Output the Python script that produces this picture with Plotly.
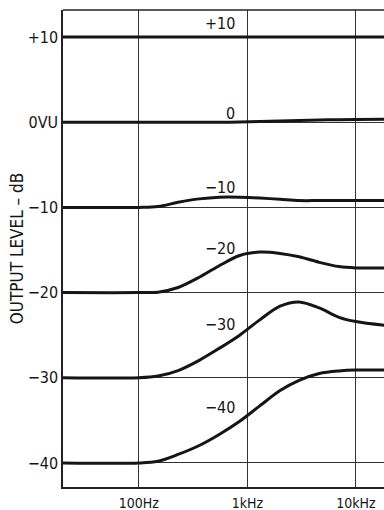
import numpy as np
import plotly.graph_objects as go

freq = [20, 100, 150, 230, 360, 550, 850, 1300, 2000, 3000, 4600, 7000, 10000, 20000]

# output level (dB) of each curve, one per input level
lvl_p10 = [10, 10, 10, 10, 10, 10, 10, 10, 10, 10, 10, 10, 10, 10]
lvl_0 = [0, 0, 0, 0, 0, 0, 0.02, 0.08, 0.15, 0.2, 0.25, 0.3, 0.33, 0.35]
lvl_m10 = [-10, -10, -9.9, -9.4, -9.0, -8.8, -8.8, -8.9, -9.05, -9.2, -9.2, -9.2, -9.2, -9.2]
lvl_m20 = [-20, -20, -19.95, -19.4, -18.2, -16.85, -15.65, -15.25, -15.4, -15.8, -16.45, -16.95, -17.1, -17.1]
lvl_m30 = [-30, -30, -29.8, -29.15, -27.95, -26.55, -25.0, -23.2, -21.6, -21.1, -21.8, -22.9, -23.4, -23.9]
lvl_m40 = [-40, -40, -39.8, -39.0, -37.95, -36.65, -35.1, -33.3, -31.5, -30.3, -29.5, -29.2, -29.1, -29.1]
curves = [lvl_p10, lvl_0, lvl_m10, lvl_m20, lvl_m30, lvl_m40]

curve_labels = ["+10", "0", "\u221210", "\u221220", "\u221230", "\u221240"]

y_ticks = [10, 0, -10, -20, -30, -40]
y_ticktext = ["+10", "0VU", "\u221210", "\u221220", "\u221230", "\u221240"]
x_ticks = [100, 1000, 10000]
x_ticktext = ["100Hz", "1kHz", "10kHz"]

FONT = "DejaVu Sans Condensed, Roboto, sans-serif"

fig = go.Figure()
for c in curves:
    fig.add_trace(go.Scatter(x=freq, y=c, mode="lines",
                             line=dict(color="#151515", width=3, shape="spline", smoothing=0.9),
                             showlegend=False, hoverinfo="skip"))

# label of each curve, just left of the 1kHz line
label_y = [11.58, 1.08, -7.66, -14.77, -23.69, -33.43]
for t, yy in zip(curve_labels, label_y):
    fig.add_annotation(x=2.905, y=yy, text=t, showarrow=False, xanchor="right", yanchor="middle",
                       font=dict(family=FONT, size=16, color="#151515"))

fig.update_layout(
    width=384, height=510,
    margin=dict(l=63, r=0, t=10, b=23),
    paper_bgcolor="white", plot_bgcolor="white",
    font=dict(family=FONT, color="#151515"),
    xaxis=dict(type="log", range=[np.log10(20), 4.259], automargin=False,
               tickvals=x_ticks, ticktext=x_ticktext, tickfont=dict(size=14),
               ticklabelstandoff=2,
               showgrid=True, gridcolor="#333333", gridwidth=1,
               showline=True, linecolor="#222222", linewidth=1.5, mirror=False,
               ticks="", zeroline=False),
    yaxis=dict(range=[-42.82, 13.17], automargin=False,
               tickvals=y_ticks, ticktext=y_ticktext, tickfont=dict(size=16),
               showgrid=True, gridcolor="#333333", gridwidth=1,
               showline=True, linecolor="#222222", linewidth=1.5,
               ticks="", zeroline=False,
               title=dict(text="OUTPUT LEVEL \u2013 dB", font=dict(size=17), standoff=0)),
)
# top border
fig.add_shape(type="line", xref="paper", yref="paper", x0=0, x1=1, y0=1, y1=1,
              line=dict(color="#222222", width=1.5))

fig.write_html("out.html", config={"displayModeBar": False},
               post_script="document.body.style.margin='0px';")
